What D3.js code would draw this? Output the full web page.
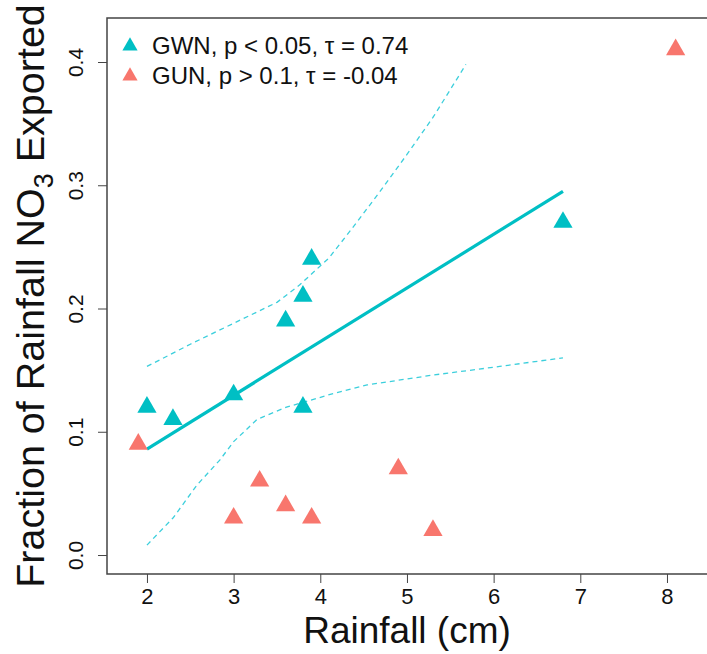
<!DOCTYPE html>
<html>
<head>
<meta charset="utf-8">
<script src="https://cdn.jsdelivr.net/npm/d3@7"></script>
<style>
  body { margin: 0; background: #fff; }
  text { font-family: "Liberation Sans", Arial, sans-serif; }
</style>
</head>
<body>
<div id="chart"></div>
<script>
// rainfall (cm) vs fraction of rainfall NO3 exported
const gwnRain = [2.0, 2.3, 3.0, 3.6, 3.8, 3.9, 3.8, 6.8];
const gwnFrac = [0.12, 0.11, 0.13, 0.19, 0.21, 0.24, 0.12, 0.27];
const gunRain = [1.9, 3.0, 3.3, 3.6, 3.9, 4.9, 5.3, 8.1];
const gunFrac = [0.09, 0.03, 0.06, 0.04, 0.03, 0.07, 0.02, 0.41];

// fitted line for GWN and its confidence band
const fitX = [2.0, 6.8];
const fitY = [0.086, 0.295];
const upperX = [2.0, 2.5, 3.0, 3.5, 3.76, 4.1, 4.4, 4.7, 5.0, 5.3, 5.68];
const upperY = [0.153, 0.171, 0.188, 0.205, 0.219, 0.241, 0.268, 0.296, 0.325, 0.355, 0.398];
const lowerX = [2.0, 2.3, 2.58, 2.84, 3.0, 3.27, 3.61, 4.15, 4.54, 5.3, 6.07, 6.8];
const lowerY = [0.008, 0.030, 0.057, 0.077, 0.092, 0.110, 0.120, 0.131, 0.138, 0.146, 0.153, 0.160];

const xTicks = [2, 3, 4, 5, 6, 7, 8];
const yTicks = [0.0, 0.1, 0.2, 0.3, 0.4];
const legendLabels = ["GWN, p < 0.05, \u03C4 = 0.74", "GUN, p > 0.1, \u03C4 = -0.04"];

const width = 707, height = 654;
const margin = {top: 18, right: -5, bottom: 80, left: 107};
const teal = "#00BFC4", salmon = "#F8766D", bandCol = "#3ccfdc";

const svg = d3.select("#chart")
    .append("svg")
    .attr("width", width)
    .attr("height", height);

// scales
const xScale = d3.scaleLinear()
    .domain([1.539, 8.5])
    .range([margin.left, margin.left + (8.5 - 1.539) * 86.67]);
const yScale = d3.scaleLinear()
    .domain([-0.0154, 0.4357])
    .range([height - margin.bottom + 0, margin.top]);

const plotBottom = yScale(-0.0154);
const plotRight = xScale(8.5);

// box (right side falls off the picture)
svg.append("path")
    .attr("d", `M${plotRight},${margin.top}H${margin.left}V${plotBottom}H${plotRight}`)
    .attr("fill", "none")
    .attr("stroke", "#444")
    .attr("stroke-width", 1.5);

// axes
svg.append("g")
    .attr("transform", `translate(0,${plotBottom})`)
    .call(d3.axisBottom(xScale).tickValues(xTicks).tickFormat(d3.format("d")).tickSize(9).tickPadding(5))
    .call(g => g.select(".domain").remove())
    .call(g => g.selectAll("line").attr("stroke", "#444"))
    .call(g => g.selectAll("text").attr("font-size", "22px").attr("fill", "#111"));

svg.append("g")
    .attr("transform", `translate(${margin.left},0)`)
    .call(d3.axisLeft(yScale).tickValues(yTicks).tickFormat(d3.format(".1f")).tickSize(9))
    .call(g => g.select(".domain").remove())
    .call(g => g.selectAll("line").attr("stroke", "#444"))
    .call(g => g.selectAll("text")
        .attr("font-size", "21px")
        .attr("fill", "#111")
        .attr("text-anchor", "middle")
        .attr("x", 0).attr("dy", 0)
        .attr("transform", "translate(-24,0) rotate(-90)")
        .attr("y", 0));

// axis titles
svg.append("text")
    .attr("x", 407)
    .attr("y", 643)
    .attr("text-anchor", "middle")
    .attr("font-size", "37px")
    .attr("fill", "#111")
    .text("Rainfall (cm)");

const yTitle = svg.append("text")
    .attr("transform", "translate(44,296) rotate(-90)")
    .attr("text-anchor", "middle")
    .attr("font-size", "39.5px")
    .attr("fill", "#111");
yTitle.append("tspan").text("Fraction of Rainfall NO");
yTitle.append("tspan").attr("font-size", "27px").attr("dy", 9).text("3");
yTitle.append("tspan").attr("dy", -9).text(" Exported");

// band and fit
const line = d3.line().x(d => xScale(d[0])).y(d => yScale(d[1]));

svg.append("path")
    .datum(d3.zip(upperX, upperY))
    .attr("d", line)
    .attr("fill", "none")
    .attr("stroke", bandCol)
    .attr("stroke-width", 1.3)
    .attr("stroke-dasharray", "5,4");

svg.append("path")
    .datum(d3.zip(lowerX, lowerY))
    .attr("d", line)
    .attr("fill", "none")
    .attr("stroke", bandCol)
    .attr("stroke-width", 1.3)
    .attr("stroke-dasharray", "5,4");

svg.append("path")
    .datum(d3.zip(fitX, fitY))
    .attr("d", line)
    .attr("fill", "none")
    .attr("stroke", teal)
    .attr("stroke-width", 3.2);

// points
const tri = d3.symbol().type(d3.symbolTriangle).size(160);

svg.append("g").selectAll("path")
    .data(d3.zip(gwnRain, gwnFrac))
    .enter()
    .append("path")
      .attr("d", tri)
      .attr("transform", d => `translate(${xScale(d[0])},${yScale(d[1])})`)
      .attr("fill", teal);

svg.append("g").selectAll("path")
    .data(d3.zip(gunRain, gunFrac))
    .enter()
    .append("path")
      .attr("d", tri)
      .attr("transform", d => `translate(${xScale(d[0])},${yScale(d[1])})`)
      .attr("fill", salmon);

// legend
const legTri = d3.symbol().type(d3.symbolTriangle).size(100);
const legend = svg.append("g");
legendLabels.forEach((lab, i) => {
  const y = 46 + i * 30;
  legend.append("path")
      .attr("d", legTri)
      .attr("transform", `translate(130,${y})`)
      .attr("fill", i === 0 ? teal : salmon);
  legend.append("text")
      .attr("x", 152)
      .attr("y", y + 8)
      .attr("font-size", "24px")
      .attr("fill", "#111")
      .text(lab);
});
</script>
</body>
</html>
